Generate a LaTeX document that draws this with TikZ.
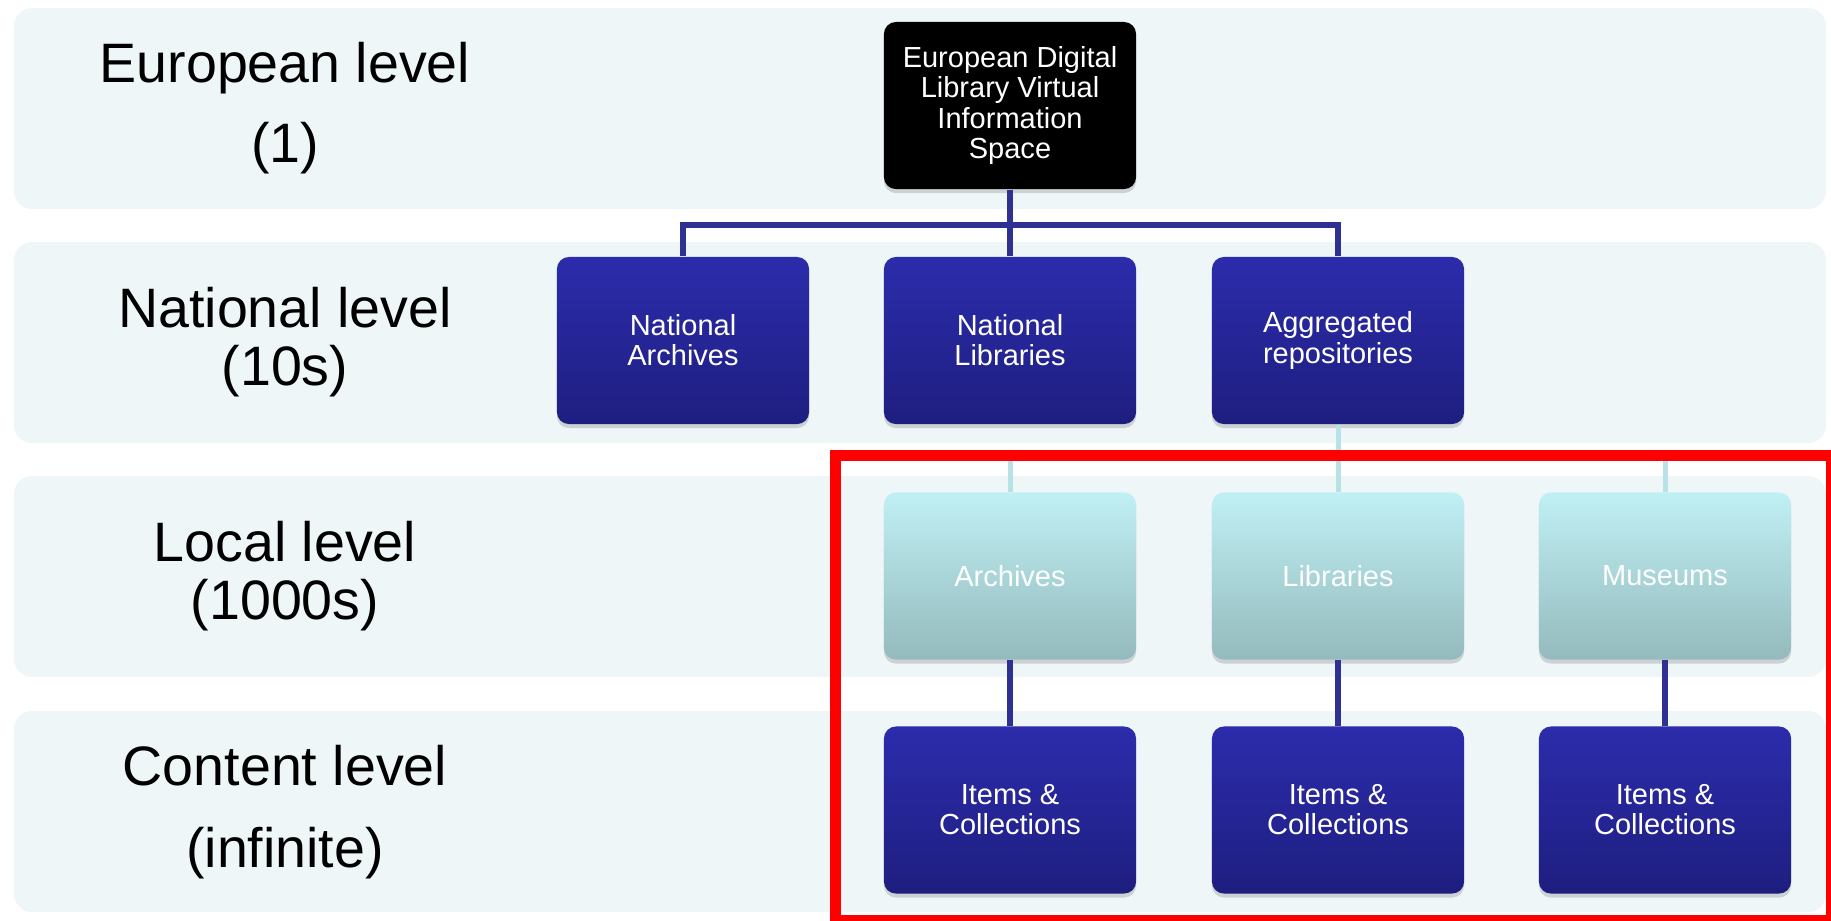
\documentclass[tikz,border=0pt]{standalone}
\usepackage{fontspec}
\setmainfont{Liberation Sans}
\usetikzlibrary{shadows}
\definecolor{bandfill}{RGB}{238,246,248}
\definecolor{navytop}{RGB}{44,44,172}
\definecolor{navybot}{RGB}{30,30,128}
\definecolor{cyantop}{RGB}{192,240,244}
\definecolor{cyanbot}{RGB}{148,186,189}
\definecolor{linknavy}{RGB}{46,49,146}
\definecolor{linkcyan}{RGB}{185,226,230}
\begin{document}
\begin{tikzpicture}[x=0.01cm,y=-0.01cm,
                    unit box/.style={rectangle,rounded corners=0.12cm,minimum width=2.52cm,minimum height=1.67cm,
                                     inner sep=0pt,align=center,text=white,font=\fontsize{8.25}{8.55}\selectfont,
                                     drop shadow={shadow xshift=0pt,shadow yshift=-0.04cm,opacity=0.3}},
                    dark node/.style={unit box,top color=navytop,bottom color=navybot},
                    light node/.style={unit box,top color=cyantop,bottom color=cyanbot},
                    top node/.style={unit box,fill=black},
                    band/.style={fill=bandfill,rounded corners=0.18cm},
                    level node/.style={align=center,font=\fontsize{15.8}{16.5}\selectfont},
                    dark link/.style={draw=linknavy,line width=0.055cm},
                    light link/.style={draw=linkcyan,line width=0.05cm}]

          \useasboundingbox (0,0) rectangle (1831,920);

          % Level bands
          \foreach \top in {8,242,476,711}
            \path[band] (14,\top) rectangle (1826,\top+201);

          \node[level node] (eu level) at (285,108) {European level\\[6.3pt](1)};
          \node[level node] (na level) at (285,342) {National level\\(10s)};
          \node[level node] (lo level) at (285,576) {Local level\\(1000s)};
          \node[level node] (co level) at (285,812) {Content level\\[6.8pt](infinite)};

          \node[top node] (eu) at (1010,105.5) {European Digital\\Library Virtual\\Information\\Space};

          \foreach \place/\name/\text in {{(683,340.5)/na/National\\Archives}, {(1010,340.5)/nl/National\\Libraries},
                                         {(1338,340.5)/ag/Aggregated\\repositories},
                                         {(1010,810)/c1/Items \&\\Collections}, {(1338,810)/c2/Items \&\\Collections},
                                         {(1665,810)/c3/Items \&\\Collections}}
            \node[dark node] (\name) at \place {\text};

          \foreach \place/\name/\text in {{(1010,576)/la/Archives}, {(1338,576)/ll/Libraries}, {(1665,576)/lm/Museums}}
            \node[light node] (\name) at \place {\text};

          % Tree links
          \coordinate (bus) at (1010,225);
          \foreach \target in {na,nl,ag}
            \draw[dark link] (eu.south) |- (bus) -| (\target.north);

          \coordinate (lbus) at (1338,457);
          \foreach \target in {la,ll,lm}
            \draw[light link] (ag.south) |- (lbus) -| (\target.north);

          \foreach \source/\target in {la/c1, ll/c2, lm/c3}
            \draw[dark link] (\source) -- (\target);

          % Highlight frame
          \draw[red,line width=0.11cm] (835,455) rectangle (1831,920);
        \end{tikzpicture}
\end{document}
